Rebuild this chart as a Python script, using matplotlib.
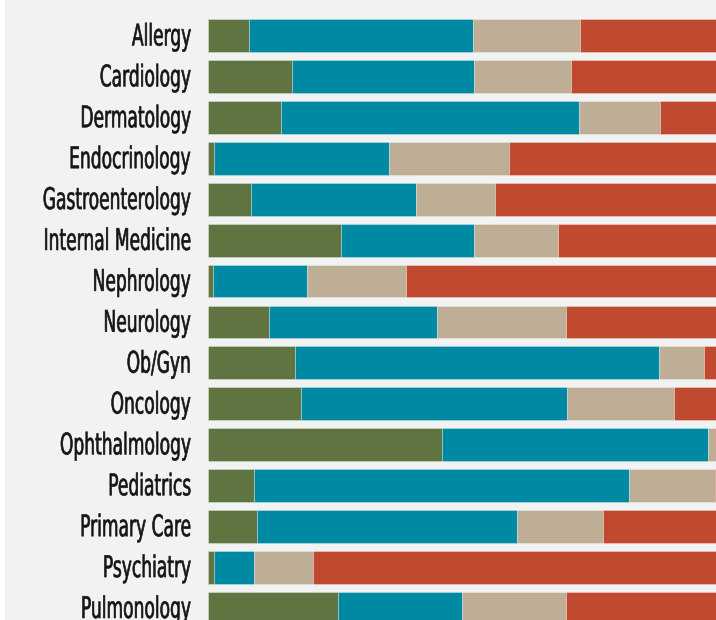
import matplotlib
matplotlib.use("Agg")
import matplotlib.pyplot as plt
from matplotlib.patches import Rectangle
from matplotlib.patheffects import AbstractPathEffect
from matplotlib.transforms import Affine2D
import numpy as np

categories = ["Allergy", "Cardiology", "Dermatology", "Endocrinology", "Gastroenterology",
              "Internal Medicine", "Nephrology", "Neurology", "Ob/Gyn", "Oncology",
              "Ophthalmology", "Pediatrics", "Primary Care", "Psychiatry", "Pulmonology"]

green = [5.1, 10.5, 9.1, 0.7, 5.4, 16.6, 0.6, 7.6, 10.9, 11.6, 29.3, 5.7, 6.1, 0.75, 16.3]
teal = [28.0, 22.8, 37.3, 21.9, 20.6, 16.6, 11.8, 21.0, 45.5, 33.3, 33.2, 46.9, 32.5, 5.0, 15.5]
beige = [13.4, 12.1, 10.1, 15.0, 9.9, 10.6, 12.4, 16.1, 5.6, 13.3, 10.0, 10.8, 10.8, 7.4, 12.9]
red = [100 - g - t - b for g, t, b in zip(green, teal, beige)]

colors = ["#5f7440", "#0089a3", "#beae96", "#c04a30"]
bg = "#f1f2f2"


class Condense(AbstractPathEffect):
    """Draw glyphs narrower and taller (a condensed look), right edge fixed."""
    def __init__(self, sx, sy, dy=0.0, lw=0.0):
        super().__init__()
        self.sx, self.sy, self.dy, self.lw = sx, sy, dy, lw

    def draw_path(self, renderer, gc, tpath, affine, rgbFace=None):
        v = tpath.vertices
        if len(v):
            xmax = v[:, 0].max()
            yc = 0.5 * v[:, 1].max()
        else:
            xmax = yc = 0.0
        t = (Affine2D().translate(-xmax, -yc).scale(self.sx, self.sy)
             .translate(xmax, yc) + affine + Affine2D().translate(0, self.dy))
        gc0 = renderer.new_gc()
        gc0.copy_properties(gc)
        if self.lw > 0 and rgbFace is not None:
            gc0.set_linewidth(self.lw)
            gc0.set_foreground(rgbFace)
        renderer.draw_path(gc0, tpath, t, rgbFace)
        gc0.restore()


fig = plt.figure(figsize=(7.16, 6.2), dpi=100)
fig.patch.set_facecolor(bg)
fig.patches.append(Rectangle((0, 0), 5 / 716, 1, transform=fig.transFigure,
                             facecolor="white", edgecolor="none", zorder=-10))

ax = fig.add_axes([208 / 716, -0.0139, 800 / 716, 0.9893])
ax.set_facecolor("none")

y = np.arange(len(categories))
left = np.zeros(len(categories))
for vals, c in zip([green, teal, beige, red], colors):
    ax.barh(y, vals, left=left, height=0.8, color=c, edgecolor=(1, 1, 1, 0.35),
            linewidth=0.6)
    left += np.array(vals)

ax.set_xlim(0, 100)
ax.set_ylim(len(categories) - 0.5, -0.5)
ax.set_yticks(y)
labels = ax.set_yticklabels(categories, family="DejaVu Sans", fontsize=14.3,
                            fontweight="normal", color="#151515")
for lab in labels:
    lab.set_path_effects([Condense(0.86, 1.5, dy=1.5, lw=0.45)])
ax.tick_params(axis="y", length=0, pad=12)
ax.set_xticks([])
for s in ax.spines.values():
    s.set_visible(False)

fig.savefig("out.png", dpi=100, facecolor=bg)
